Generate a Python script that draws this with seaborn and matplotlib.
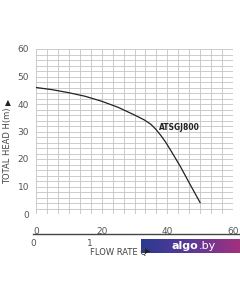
import numpy as np
import pandas as pd
import matplotlib
matplotlib.use("Agg")
import matplotlib.pyplot as plt
import seaborn as sns
from matplotlib.colors import LinearSegmentedColormap

# Data
flow = [0, 5, 10, 15, 20, 25, 30, 33, 35, 36.5, 38, 39.5, 41, 44, 47, 50]
head = [46, 45.2, 44.1, 42.8, 41.0, 38.8, 36.0, 34.2, 32.6, 30.8, 28.6, 26.1, 23.2, 17.2, 10.6, 4.1]
model_label = "ATSGJ800"
x_ticks = [0, 20, 40, 60]
y_ticks = [0, 10, 20, 30, 40, 50, 60]
sec_ticks = [0, 1, 2, 3]
sec_labels = ["0", "1", "", ""]

sns.set_theme(style="white")
plt.rcParams['font.family'] = ['DejaVu Sans']

W, H = 240, 303
fig = plt.figure(figsize=(W / 100, H / 100), dpi=100)
fig.patch.set_facecolor("white")

def px(x0, y0, x1, y1):
    return [x0 / W, 1 - y1 / H, (x1 - x0) / W, (y1 - y0) / H]

ax = fig.add_axes(px(36, 49, 233, 214))
df = pd.DataFrame({"Q": flow, "H": head})
sns.lineplot(data=df, x="Q", y="H", ax=ax, color="#222222", linewidth=0.9)
ax.set_xlim(0, 60)
ax.set_ylim(0, 60)
grid_c = "#c4c4c4"
for v in np.linspace(0, 60, 19):
    ax.axvline(v, color=grid_c, linewidth=0.6, zorder=0)
for v in np.arange(0, 61, 2):
    ax.axhline(v, color=grid_c, linewidth=0.6, zorder=0)
for s in ax.spines.values():
    s.set_visible(False)
ax.set_xticks(x_ticks)
ax.set_yticks(y_ticks)
ax.tick_params(axis="both", labelsize=6.5, colors="#555555", length=3, width=0.6, pad=2)
ax.tick_params(axis="x", pad=6)
ax.set_xlabel("")
ax.set_ylabel("")
ax.text(37.5, 31.6, model_label, fontsize=6, fontweight="bold", color="#222222",
        fontstretch="condensed", va="center", ha="left")

# secondary flow axis
ax2 = fig.add_axes([33 / W, 1 - 234 / H, (W - 33) / W, 0.0001])
ax2.set_xlim(0, (W - 33) / 57)
ax2.set_yticks([])
for k in ["top", "left", "right"]:
    ax2.spines[k].set_visible(False)
ax2.spines["bottom"].set_color("#444444")
ax2.spines["bottom"].set_linewidth(1.0)
ax2.set_xticks(sec_ticks)
ax2.set_xticklabels(sec_labels)
ax2.tick_params(axis="x", labelsize=6.5, colors="#555555", length=3, width=0.8,
                direction="inout", pad=2)
ax2.patch.set_visible(False)

fig.text(118 / W, 1 - 252 / H, "FLOW RATE Q", fontsize=6, color="#444444",
         ha="center", va="center")
fig.text(148 / W, 1 - 251 / H, "▶", fontsize=5, color="#222222", ha="center", va="center")
fig.text(8 / W, 1 - 146 / H, "TOTAL HEAD H(m)", fontsize=6, color="#444444",
         rotation=90, ha="center", va="center")
fig.text(8 / W, 1 - 103 / H, "▲", fontsize=5.5, color="#222222", ha="center", va="center")

# watermark banner
bx = fig.add_axes(px(141, 239, 240, 253))
grad = np.linspace(0, 1, 256).reshape(1, -1)
cm = LinearSegmentedColormap.from_list("g", ["#2b3990", "#5a3a98", "#a3307e"])
bx.imshow(grad, aspect="auto", cmap=cm, extent=[0, 1, 0, 1])
bx.set_axis_off()
bx.text(0.31, 0.5, "algo", fontsize=8, fontweight="bold", color="white", ha="left", va="center")
bx.text(0.58, 0.5, ".by", fontsize=8, color="white", ha="left", va="center")

fig.savefig("out.png", dpi=100)
